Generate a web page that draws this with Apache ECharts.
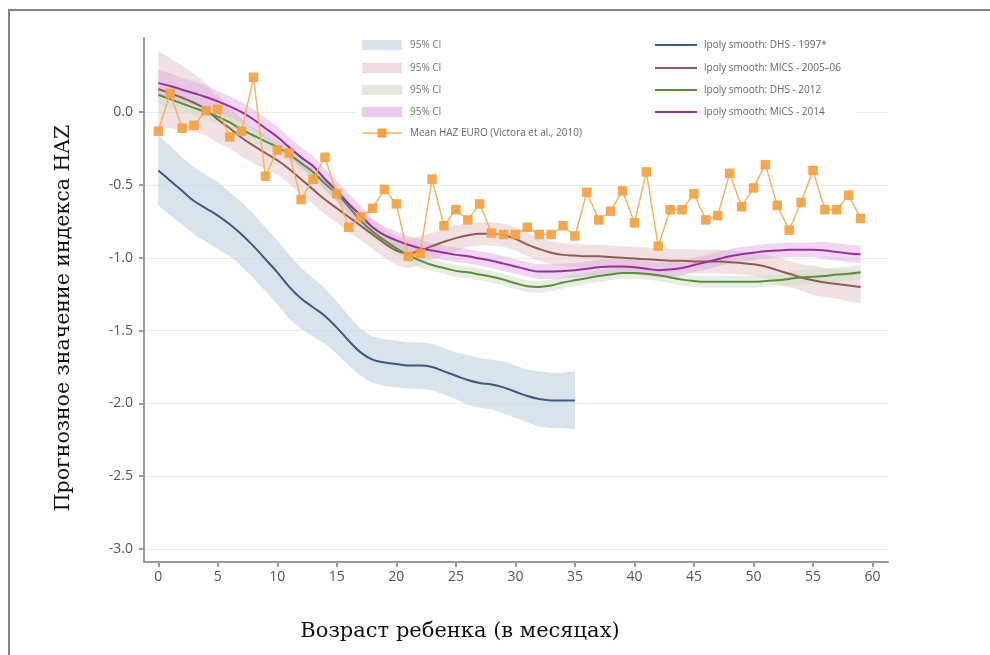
<!DOCTYPE html>
<html>
<head>
<meta charset="utf-8">
<script src="https://cdn.jsdelivr.net/npm/echarts@6/dist/echarts.min.js"></script>
<style>html,body{margin:0;padding:0;background:#fff}#c{width:990px;height:655px}</style>
</head>
<body>
<div id="c"></div>
<script>
const months = [0,1,2,3,4,5,6,7,8,9,10,11,12,13,14,15,16,17,18,19,20,21,22,23,24,25,26,27,28,29,30,31,32,33,34,35,36,37,38,39,40,41,42,43,44,45,46,47,48,49,50,51,52,53,54,55,56,57,58,59];
const xTicks = [0,5,10,15,20,25,30,35,40,45,50,55,60];
const yTicks = [0,-0.5,-1,-1.5,-2,-2.5,-3];

const meanEuro = [-0.13,0.13,-0.11,-0.09,0.01,0.02,-0.17,-0.13,0.24,-0.44,-0.26,-0.28,-0.60,-0.46,-0.31,-0.56,-0.79,-0.72,-0.66,-0.53,-0.63,-0.99,-0.97,-0.46,-0.78,-0.67,-0.74,-0.63,-0.83,-0.84,-0.84,-0.79,-0.84,-0.84,-0.78,-0.85,-0.55,-0.74,-0.68,-0.54,-0.76,-0.41,-0.92,-0.67,-0.67,-0.56,-0.74,-0.71,-0.42,-0.65,-0.52,-0.36,-0.64,-0.81,-0.62,-0.40,-0.67,-0.67,-0.57,-0.73];

const dhs1997 = [-0.40,-0.47,-0.54,-0.61,-0.66,-0.71,-0.77,-0.84,-0.92,-1.01,-1.10,-1.20,-1.28,-1.34,-1.40,-1.48,-1.57,-1.65,-1.70,-1.72,-1.73,-1.74,-1.74,-1.75,-1.78,-1.81,-1.84,-1.86,-1.87,-1.89,-1.92,-1.95,-1.97,-1.98,-1.98,-1.98];
const dhs1997CI = [0.24,0.24,0.23,0.23,0.23,0.23,0.22,0.22,0.22,0.22,0.22,0.22,0.21,0.20,0.19,0.18,0.17,0.16,0.16,0.16,0.16,0.16,0.16,0.16,0.16,0.16,0.17,0.17,0.17,0.18,0.18,0.18,0.19,0.19,0.19,0.20];

const mics2005 = [0.16,0.13,0.10,0.065,0.02,-0.05,-0.11,-0.175,-0.23,-0.28,-0.33,-0.39,-0.46,-0.53,-0.60,-0.66,-0.72,-0.78,-0.84,-0.90,-0.95,-0.97,-0.95,-0.92,-0.89,-0.865,-0.845,-0.835,-0.835,-0.845,-0.87,-0.91,-0.94,-0.965,-0.98,-0.985,-0.99,-0.99,-0.995,-1.00,-1.005,-1.01,-1.015,-1.02,-1.02,-1.025,-1.025,-1.025,-1.03,-1.035,-1.045,-1.06,-1.085,-1.11,-1.135,-1.155,-1.17,-1.18,-1.19,-1.20];
const mics2005CI = [0.26,0.24,0.22,0.20,0.18,0.16,0.14,0.13,0.12,0.11,0.10,0.10,0.10,0.10,0.10,0.10,0.10,0.10,0.10,0.10,0.10,0.10,0.10,0.09,0.09,0.09,0.08,0.08,0.08,0.08,0.08,0.08,0.08,0.08,0.08,0.08,0.08,0.08,0.08,0.08,0.08,0.08,0.08,0.08,0.08,0.08,0.08,0.08,0.08,0.08,0.08,0.08,0.09,0.09,0.09,0.10,0.10,0.10,0.11,0.11];

const dhs2012 = [0.12,0.09,0.06,0.03,0.00,-0.03,-0.07,-0.12,-0.16,-0.20,-0.24,-0.29,-0.35,-0.41,-0.49,-0.56,-0.65,-0.745,-0.82,-0.88,-0.935,-0.98,-1.02,-1.05,-1.07,-1.09,-1.10,-1.115,-1.13,-1.15,-1.175,-1.195,-1.20,-1.19,-1.17,-1.155,-1.14,-1.125,-1.115,-1.105,-1.105,-1.11,-1.12,-1.135,-1.15,-1.16,-1.165,-1.165,-1.165,-1.165,-1.165,-1.16,-1.155,-1.145,-1.135,-1.13,-1.125,-1.115,-1.11,-1.10];
const dhs2012CI = [0.06,0.06,0.06,0.05,0.05,0.05,0.05,0.05,0.05,0.05,0.05,0.05,0.05,0.05,0.05,0.05,0.05,0.05,0.05,0.05,0.05,0.05,0.05,0.04,0.04,0.04,0.04,0.04,0.04,0.04,0.04,0.04,0.04,0.04,0.04,0.04,0.04,0.04,0.04,0.04,0.04,0.04,0.04,0.04,0.04,0.04,0.04,0.04,0.04,0.04,0.04,0.04,0.04,0.05,0.05,0.05,0.05,0.05,0.05,0.05];

const mics2014 = [0.20,0.18,0.155,0.13,0.105,0.075,0.04,0.00,-0.05,-0.11,-0.17,-0.24,-0.31,-0.37,-0.46,-0.54,-0.63,-0.71,-0.79,-0.845,-0.88,-0.91,-0.935,-0.95,-0.965,-0.98,-0.99,-1.005,-1.02,-1.04,-1.06,-1.08,-1.095,-1.095,-1.09,-1.085,-1.075,-1.065,-1.06,-1.06,-1.065,-1.075,-1.085,-1.08,-1.07,-1.05,-1.03,-1.01,-0.99,-0.975,-0.965,-0.955,-0.95,-0.945,-0.945,-0.945,-0.95,-0.96,-0.97,-0.975];
const mics2014CI = [0.09,0.09,0.08,0.08,0.08,0.07,0.07,0.07,0.07,0.07,0.07,0.07,0.07,0.07,0.07,0.07,0.07,0.07,0.06,0.06,0.06,0.06,0.06,0.05,0.05,0.05,0.05,0.05,0.05,0.05,0.05,0.05,0.05,0.05,0.05,0.05,0.05,0.05,0.05,0.05,0.05,0.05,0.05,0.05,0.05,0.05,0.05,0.05,0.05,0.05,0.05,0.05,0.05,0.05,0.05,0.05,0.06,0.06,0.06,0.06];

const ciLabel = '95% CI';
const meanLabel = 'Mean HAZ EURO (Victora et al., 2010)';
const smoothLabels = ['lpoly smooth: DHS - 1997*','lpoly smooth: MICS - 2005–06','lpoly smooth: DHS - 2012','lpoly smooth: MICS - 2014'];
const xTitle = 'Возраст ребенка (в месяцах)';
const yTitle = 'Прогнозное значение индекса HAZ';

const lineColors = ['#3d5a7e','#8f5b5b','#5f8b3f','#9a2fa0'];
const bandColors = ['rgba(200,215,231,0.7)','rgba(228,196,196,0.5)','rgba(208,224,198,0.55)','rgba(222,165,224,0.45)'];
const swatchColors = ['#d8e2ec','#efdcdc','#e2eadb','#ecc8ec'];
const orange = '#f4a142';

const groups = [
  {vals: dhs1997, ci: dhs1997CI},
  {vals: mics2005, ci: mics2005CI},
  {vals: dhs2012, ci: dhs2012CI},
  {vals: mics2014, ci: mics2014CI}
];

const series = [];
series.push({
  type: 'line', data: [], silent: true, z: 0,
  markLine: {
    silent: true, symbol: 'none', label: {show: false}, z: 0,
    lineStyle: {color: '#ececec', width: 1, type: 'solid'},
    data: yTicks.map(v => ({yAxis: v}))
  }
});
groups.forEach((g, i) => {
  series.push({
    type: 'custom', silent: true, z: 1, clip: true,
    data: [[g.vals.length - 1, g.vals[0]]],
    encode: {x: 0, y: 1},
    renderItem: (params, api) => {
      const pts = [];
      for (let k = 0; k < g.vals.length; k++) pts.push(api.coord([months[k], g.vals[k] + g.ci[k]]));
      for (let k = g.vals.length - 1; k >= 0; k--) pts.push(api.coord([months[k], g.vals[k] - g.ci[k]]));
      return {type: 'polygon', shape: {points: pts}, style: {fill: bandColors[i]}};
    }
  });
});
groups.forEach((g, i) => {
  series.push({
    type: 'line', smooth: 0.4, symbol: 'none', silent: true, z: 3,
    lineStyle: {color: lineColors[i], width: 2},
    data: g.vals.map((v, k) => [months[k], v])
  });
});
series.push({
  type: 'line', symbol: 'rect', symbolSize: 9.5, silent: true, z: 5,
  lineStyle: {color: '#f6b264', width: 1.5},
  itemStyle: {color: orange, opacity: 0.92},
  data: meanEuro.map((v, k) => [months[k], v])
});

const legendRows = [45, 68, 90, 112, 133];
const LZ = 100;
const graphic = [
  {type: 'line', z: LZ, shape: {x1: 8, y1: 10, x2: 990, y2: 10}, style: {stroke: '#808080', lineWidth: 2}},
  {type: 'line', z: LZ, shape: {x1: 9, y1: 10, x2: 9, y2: 655}, style: {stroke: '#808080', lineWidth: 2}},
  {type: 'rect', z: LZ - 1, shape: {x: 356, y: 104, width: 500, height: 16}, style: {fill: '#ffffff'}}
];
swatchColors.forEach((c, i) => {
  graphic.push({type: 'rect', z: LZ, shape: {x: 362, y: legendRows[i] - 5, width: 40, height: 10}, style: {fill: c}});
  graphic.push({type: 'text', z: LZ, x: 410, y: legendRows[i], style: {text: ciLabel, fill: '#777', font: '10px "Open Sans"', verticalAlign: 'middle'}});
  graphic.push({type: 'line', z: LZ, shape: {x1: 655, y1: legendRows[i], x2: 697, y2: legendRows[i]}, style: {stroke: lineColors[i], lineWidth: 2}});
  graphic.push({type: 'text', z: LZ, x: 704, y: legendRows[i], style: {text: smoothLabels[i], fill: '#666', font: '10px "Open Sans"', verticalAlign: 'middle'}});
});
graphic.push({type: 'line', z: LZ, shape: {x1: 362, y1: legendRows[4], x2: 402, y2: legendRows[4]}, style: {stroke: '#f6b264', lineWidth: 1.5}});
graphic.push({type: 'rect', z: LZ, shape: {x: 377.5, y: legendRows[4] - 4.5, width: 9, height: 9}, style: {fill: orange}});
graphic.push({type: 'text', z: LZ, x: 410, y: legendRows[4], style: {text: meanLabel, fill: '#666', font: '10px "Open Sans"', verticalAlign: 'middle'}});

const chart = echarts.init(document.getElementById('c'), null, {renderer: 'canvas'});
chart.setOption({
  animation: false,
  backgroundColor: '#fff',
  grid: {left: 144, right: 102, top: 38, bottom: 93, containLabel: false},
  xAxis: {
    type: 'value', min: -1.2, max: 61.3,
    name: xTitle, nameLocation: 'middle', nameGap: 59,
    nameTextStyle: {fontFamily: 'DejaVu Serif', fontSize: 21, color: '#111', padding: [0, 112, 0, 0]},
    axisLine: {show: true, onZero: false, lineStyle: {color: '#9a9a9a', width: 2}},
    axisTick: {show: true, length: 5, customValues: xTicks, lineStyle: {color: '#9a9a9a', width: 2}},
    axisLabel: {customValues: xTicks, color: '#555', fontFamily: 'Open Sans', fontSize: 14, margin: 8},
    splitLine: {show: false}
  },
  yAxis: {
    type: 'value', min: -3.09, max: 0.51,
    name: yTitle, nameLocation: 'middle', nameGap: 70, nameRotate: 90,
    nameTextStyle: {fontFamily: 'DejaVu Serif', fontSize: 20.5, color: '#111', padding: [0, 36, 0, 0]},
    axisLine: {show: true, onZero: false, lineStyle: {color: '#9a9a9a', width: 2}},
    axisTick: {show: true, length: 5, customValues: yTicks, lineStyle: {color: '#9a9a9a', width: 2}},
    axisLabel: {customValues: yTicks, color: '#555', fontFamily: 'Open Sans', fontSize: 14, margin: 11,
      formatter: v => v.toFixed(1)},
    splitLine: {show: false}
  },
  graphic: graphic,
  series: series
});
</script>
</body>
</html>
